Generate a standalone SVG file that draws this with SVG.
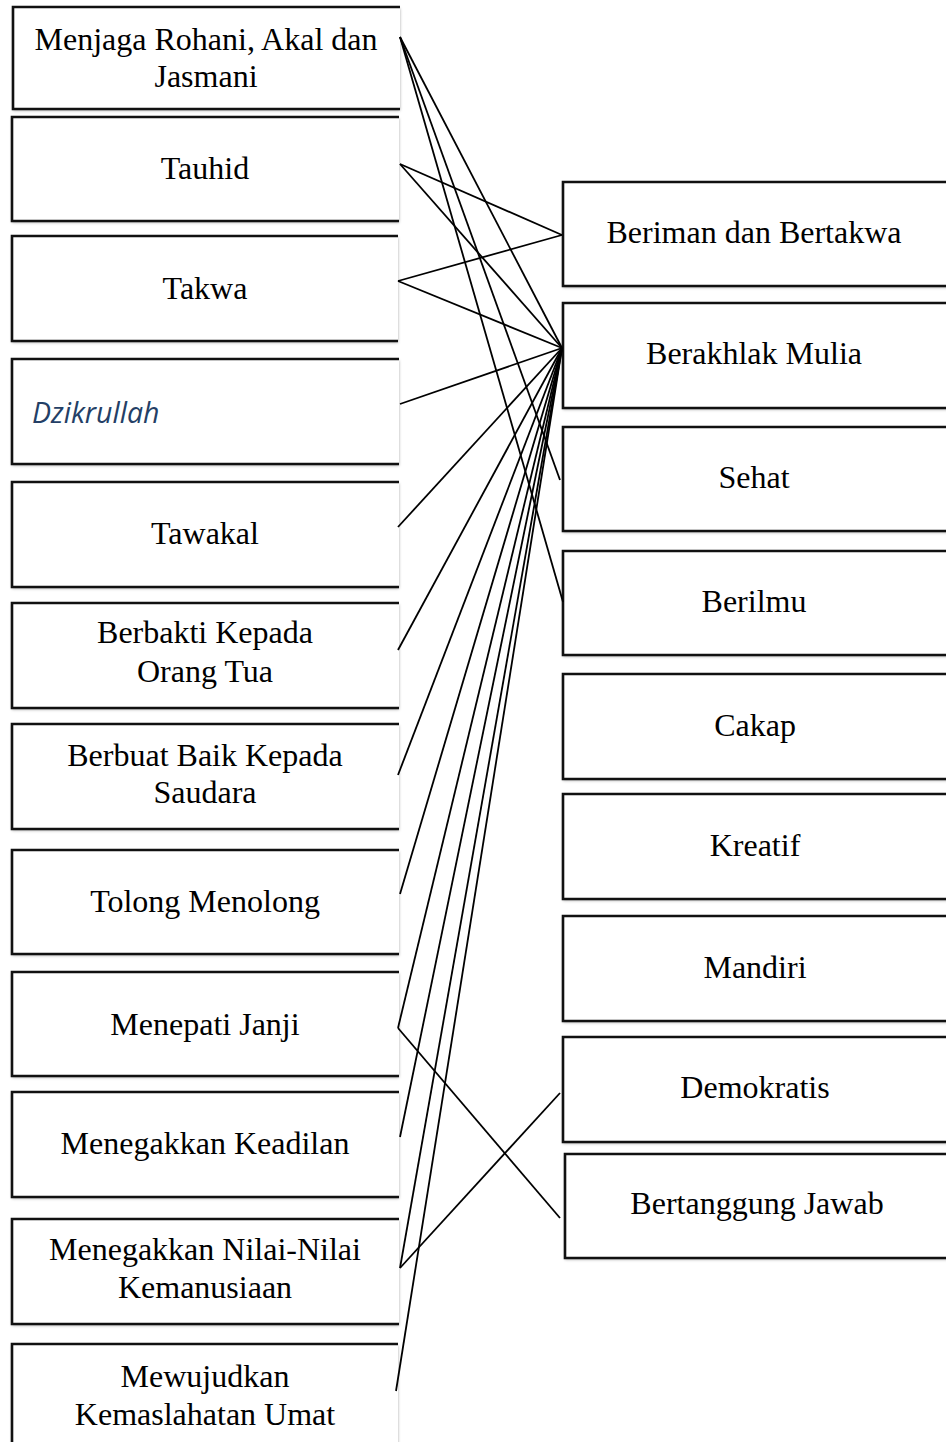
<svg xmlns="http://www.w3.org/2000/svg" width="946" height="1442" viewBox="0 0 946 1442">
  <defs>
    <filter id="sh" x="-5%" y="-10%" width="110%" height="125%">
      <feDropShadow dx="0" dy="1.5" stdDeviation="1.6" flood-color="#000" flood-opacity="0.35"/>
    </filter>
  </defs>
  <style>
    .bg { fill: #ffffff; filter: url(#sh); }
    .bd { fill: none; stroke: #111; stroke-width: 2.6; }
    .t { font-family: "Liberation Serif", "Times New Roman", serif; font-size: 32px; fill: #000; text-anchor: middle; }
    .it { font-family: "Open Sans", "Noto Sans", sans-serif; font-style: italic; font-size: 28.5px; fill: #243F66; }
    .cn line { stroke: #000; stroke-width: 1.8; }
  </style>
  <rect width="946" height="1442" fill="#ffffff"/>

  <!-- Left nodes -->
  <g id="n-menjaga">
    <rect class="bg" x="13" y="7" width="387" height="102"/>
    <path class="bd" d="M400,7 H13 V109 H400"/>
    <text class="t" x="206" y="50">Menjaga Rohani, Akal dan</text>
    <text class="t" x="206" y="87">Jasmani</text>
  </g>
  <g id="n-tauhid">
    <rect class="bg" x="12" y="117" width="387" height="104"/>
    <path class="bd" d="M399,117 H12 V221 H399"/>
    <text class="t" x="205" y="179">Tauhid</text>
  </g>
  <g id="n-takwa">
    <rect class="bg" x="12" y="236" width="386" height="105"/>
    <path class="bd" d="M398,236 H12 V341 H398"/>
    <text class="t" x="205" y="299">Takwa</text>
  </g>
  <g id="n-dzikrullah">
    <rect class="bg" x="12" y="359" width="387" height="105"/>
    <path class="bd" d="M399,359 H12 V464 H399"/>
    <text class="it" x="32" y="423">Dzikrullah</text>
  </g>
  <g id="n-tawakal">
    <rect class="bg" x="12" y="482" width="387" height="105"/>
    <path class="bd" d="M399,482 H12 V587 H399"/>
    <text class="t" x="205" y="544">Tawakal</text>
  </g>
  <g id="n-berbakti">
    <rect class="bg" x="12" y="603" width="387" height="105"/>
    <path class="bd" d="M399,603 H12 V708 H399"/>
    <text class="t" x="205" y="643">Berbakti Kepada</text>
    <text class="t" x="205" y="682">Orang Tua</text>
  </g>
  <g id="n-berbuat">
    <rect class="bg" x="12" y="724" width="387" height="105"/>
    <path class="bd" d="M399,724 H12 V829 H399"/>
    <text class="t" x="205" y="766">Berbuat Baik Kepada</text>
    <text class="t" x="205" y="803">Saudara</text>
  </g>
  <g id="n-tolong">
    <rect class="bg" x="12" y="850" width="387" height="104"/>
    <path class="bd" d="M399,850 H12 V954 H399"/>
    <text class="t" x="205" y="912">Tolong Menolong</text>
  </g>
  <g id="n-menepati">
    <rect class="bg" x="12" y="972" width="387" height="104"/>
    <path class="bd" d="M399,972 H12 V1076 H399"/>
    <text class="t" x="205" y="1035">Menepati Janji</text>
  </g>
  <g id="n-keadilan">
    <rect class="bg" x="12" y="1092" width="387" height="105"/>
    <path class="bd" d="M399,1092 H12 V1197 H399"/>
    <text class="t" x="205" y="1154">Menegakkan Keadilan</text>
  </g>
  <g id="n-nilai">
    <rect class="bg" x="12" y="1219" width="387" height="105"/>
    <path class="bd" d="M399,1219 H12 V1324 H399"/>
    <text class="t" x="205" y="1260">Menegakkan Nilai-Nilai</text>
    <text class="t" x="205" y="1298">Kemanusiaan</text>
  </g>
  <g id="n-mewujudkan">
    <rect class="bg" x="12" y="1344" width="386" height="105"/>
    <path class="bd" d="M398,1344 H12 V1449 H398"/>
    <text class="t" x="205" y="1387">Mewujudkan</text>
    <text class="t" x="205" y="1425">Kemaslahatan Umat</text>
  </g>

  <!-- Right nodes -->
  <g id="n-beriman">
    <rect class="bg" x="563" y="182" width="390" height="104"/>
    <path class="bd" d="M953,182 H563 V286 H953"/>
    <text class="t" x="754" y="243">Beriman dan Bertakwa</text>
  </g>
  <g id="n-berakhlak">
    <rect class="bg" x="563" y="303" width="390" height="105"/>
    <path class="bd" d="M953,303 H563 V408 H953"/>
    <text class="t" x="754" y="364">Berakhlak Mulia</text>
  </g>
  <g id="n-sehat">
    <rect class="bg" x="563" y="427" width="390" height="104"/>
    <path class="bd" d="M953,427 H563 V531 H953"/>
    <text class="t" x="754" y="488">Sehat</text>
  </g>
  <g id="n-berilmu">
    <rect class="bg" x="563" y="551" width="390" height="104"/>
    <path class="bd" d="M953,551 H563 V655 H953"/>
    <text class="t" x="754" y="612">Berilmu</text>
  </g>
  <g id="n-cakap">
    <rect class="bg" x="563" y="674" width="390" height="105"/>
    <path class="bd" d="M953,674 H563 V779 H953"/>
    <text class="t" x="755" y="736">Cakap</text>
  </g>
  <g id="n-kreatif">
    <rect class="bg" x="563" y="794" width="390" height="105"/>
    <path class="bd" d="M953,794 H563 V899 H953"/>
    <text class="t" x="755" y="856">Kreatif</text>
  </g>
  <g id="n-mandiri">
    <rect class="bg" x="563" y="916" width="390" height="105"/>
    <path class="bd" d="M953,916 H563 V1021 H953"/>
    <text class="t" x="755" y="978">Mandiri</text>
  </g>
  <g id="n-demokratis">
    <rect class="bg" x="563" y="1037" width="390" height="105"/>
    <path class="bd" d="M953,1037 H563 V1142 H953"/>
    <text class="t" x="755" y="1098">Demokratis</text>
  </g>
  <g id="n-bertanggung">
    <rect class="bg" x="565" y="1154" width="390" height="104"/>
    <path class="bd" d="M955,1154 H565 V1258 H955"/>
    <text class="t" x="757" y="1214">Bertanggung Jawab</text>
  </g>

  <!-- Connectors -->
  <g id="connectors" class="cn">
    <line x1="400" y1="37" x2="562" y2="348"/>
    <line x1="400" y1="37" x2="560" y2="480"/>
    <line x1="400" y1="37" x2="563" y2="602"/>
    <line x1="400" y1="164" x2="562" y2="235"/>
    <line x1="400" y1="164" x2="562" y2="348"/>
    <line x1="398" y1="281" x2="562" y2="235"/>
    <line x1="398" y1="281" x2="562" y2="348"/>
    <line x1="400" y1="404" x2="562" y2="348"/>
    <line x1="398" y1="527" x2="562" y2="348"/>
    <line x1="398" y1="650" x2="562" y2="348"/>
    <line x1="398" y1="775" x2="562" y2="348"/>
    <line x1="400" y1="894" x2="562" y2="348"/>
    <line x1="398" y1="1028" x2="562" y2="348"/>
    <line x1="398" y1="1028" x2="560" y2="1218"/>
    <line x1="400" y1="1137" x2="562" y2="348"/>
    <line x1="400" y1="1268" x2="562" y2="348"/>
    <line x1="400" y1="1268" x2="560" y2="1093"/>
    <line x1="396" y1="1391" x2="562" y2="348"/>
  </g>
</svg>
